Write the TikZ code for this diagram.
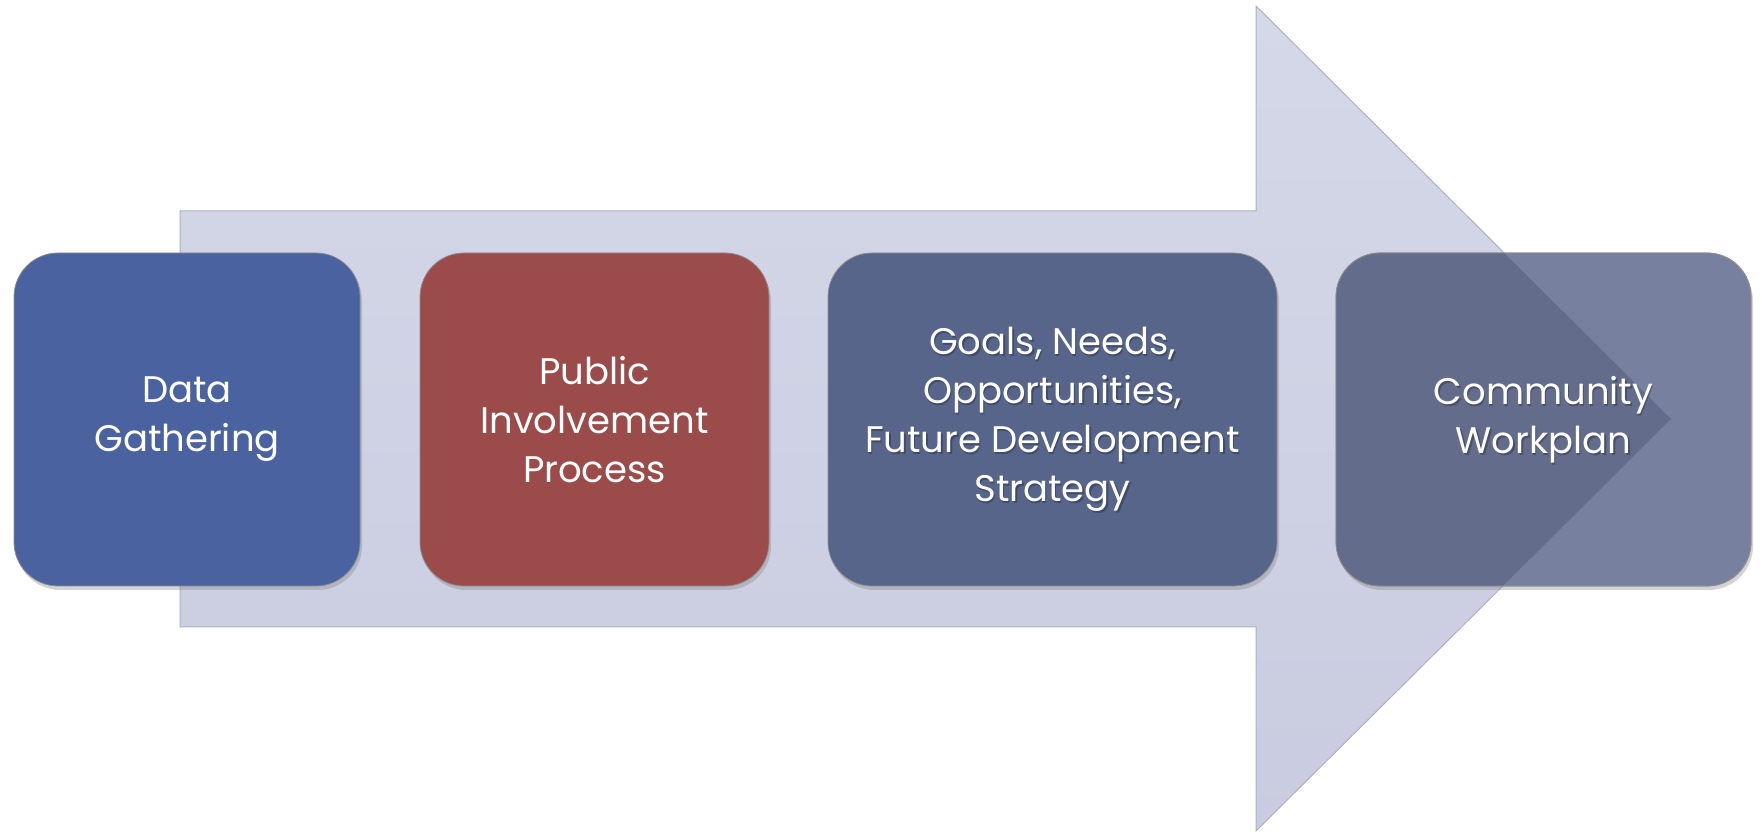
\documentclass[tikz,border=0pt]{standalone}
\usepackage{fontspec}
\setmainfont{Poppins}
\usetikzlibrary{shadows}
\definecolor{cone}{HTML}{4A62A0}
\definecolor{ctwo}{HTML}{9B4B4A}
\definecolor{cthree}{HTML}{566589}
\definecolor{cfour}{HTML}{77819F}
\definecolor{cfourdark}{HTML}{636C8B}
\definecolor{arrowtop}{HTML}{D5D8E8}
\definecolor{arrowbot}{HTML}{C9CCE0}
\definecolor{arrowedge}{HTML}{AEB0C2}
\begin{document}
\begin{tikzpicture}[x=1pt,y=1pt,
  stepbox/.style={rectangle, rounded corners=44pt, minimum height=333pt, outer sep=0pt, inner sep=0pt,
    draw=black!45, line width=0.8pt,
    drop shadow={opacity=0.35, shadow xshift=2pt, shadow yshift=-4pt}},
  steptext/.style={text=white, align=center, font=\fontsize{37}{49}\selectfont},
  textshadow/.style={text=black, opacity=0.25, align=center, font=\fontsize{37}{49}\selectfont}]
\useasboundingbox (0,0) rectangle (1762,835);
% big arrow
\path[top color=arrowtop, bottom color=arrowbot, draw=arrowedge, line width=1pt]
  (180,208) -- (1256,208) -- (1256,4) -- (1671,416) -- (1256,829) -- (1256,624) -- (180,624) -- cycle;
% boxes
\node[stepbox, fill=cone, minimum width=346pt] (b1) at (187,415.5) {};
\node[stepbox, fill=ctwo, minimum width=349pt] (b2) at (594.5,415.5) {};
\node[stepbox, fill=cthree, minimum width=449pt] (b3) at (1052.5,415.5) {};
\node[stepbox, fill=cfour, minimum width=415pt] (b4) at (1543.5,415.5) {};
\begin{scope}
  \clip (1256,4) -- (1671,416) -- (1256,829) -- cycle;
  \fill[cfourdark, rounded corners=44pt] (b4.south west) rectangle (b4.north east);
\end{scope}
\draw[black!45, line width=0.8pt, rounded corners=44pt] (b4.south west) rectangle (b4.north east);
% text shadows
\node[textshadow] (s3) at ([shift={(1.5,-2)}]b3.center) {Goals, Needs,\\Opportunities,\\Future Development\\Strategy};
\node[textshadow] (s4) at ([shift={(1.5,-2)}]b4.center) {Community\\Workplan};
% texts
\node[steptext] (t1) at (b1.center) {Data\\Gathering};
\node[steptext] (t2) at (b2.center) {Public\\Involvement\\Process};
\node[steptext] (t3) at (b3.center) {Goals, Needs,\\Opportunities,\\Future Development\\Strategy};
\node[steptext] (t4) at (b4.center) {Community\\Workplan};
\end{tikzpicture}
\end{document}
